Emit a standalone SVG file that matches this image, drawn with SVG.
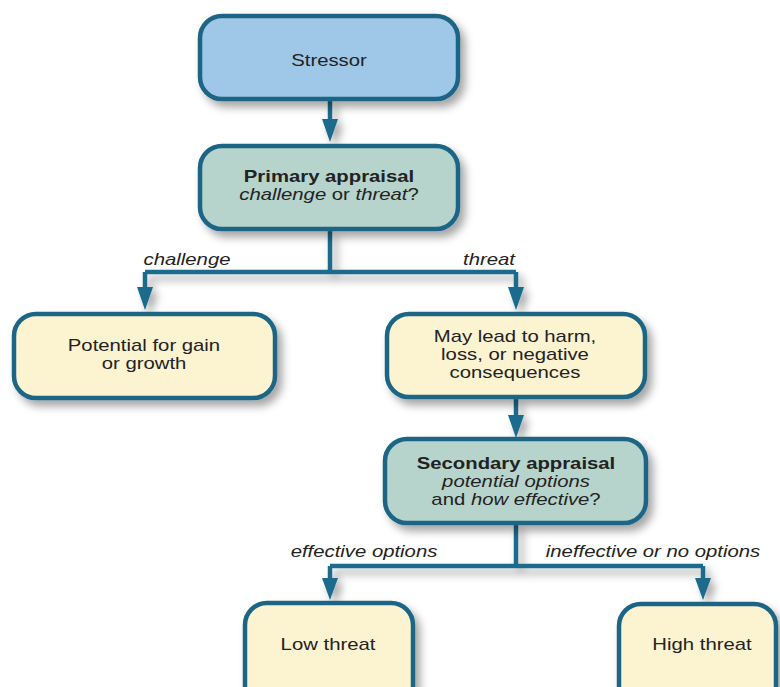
<svg xmlns="http://www.w3.org/2000/svg" width="780" height="687" viewBox="0 0 780 687">
<defs>
<filter id="sh" x="-20%" y="-20%" width="150%" height="160%">
<feDropShadow dx="5" dy="6" stdDeviation="4.5" flood-color="#000" flood-opacity="0.35"/>
</filter>
<style>
.box{stroke:#1d6585;stroke-width:4.5;filter:url(#sh)}
.blue{fill:#9fc7e7}
.green{fill:#b6d4cb}
.yellow{fill:#fcf3d1}
.t{font-family:"Liberation Sans",Arial,sans-serif;font-size:16px;fill:#222;text-anchor:middle}
.b{font-weight:bold}
.i{font-style:italic}
.ln{fill:none;stroke:#1a6a8c;stroke-width:4.5;stroke-linejoin:miter}
.ah{fill:#1a6a8c}
</style>
</defs>
<rect width="780" height="687" fill="#fff"/>
<g id="connectors" filter="url(#sh)">
<path class="ln" d="M330 100V121"/>
<polygon class="ah" points="322,119 338,119 330,142"/>
<path class="ln" d="M330 230V272M145 272H516M145 272V290M516 272V290"/>
<polygon class="ah" points="137,287 153,287 145,310"/>
<polygon class="ah" points="508,287 524,287 516,310"/>
<path class="ln" d="M516 398V418"/>
<polygon class="ah" points="508,415 524,415 516,438"/>
<path class="ln" d="M516 523V566M330 566H703M330 566V581M703 566V581"/>
<polygon class="ah" points="322,578 338,578 330,600"/>
<polygon class="ah" points="695,578 711,578 703,600"/>
</g>
<g id="stressor">
<rect class="box blue" x="200" y="16" width="258" height="83" rx="22"/>
<text class="t" transform="translate(329 66) scale(1.27 1)">Stressor</text>
</g>
<g id="primary">
<rect class="box green" x="200" y="146" width="258" height="83" rx="22"/>
<text class="t b" transform="translate(329 182) scale(1.27 1)">Primary appraisal</text>
<text class="t" transform="translate(329 200) scale(1.27 1)"><tspan class="i">challenge</tspan> or <tspan class="i">threat</tspan>?</text>
</g>
<g id="label-challenge">
<text class="t i" transform="translate(187 265) scale(1.27 1)">challenge</text>
</g>
<g id="label-threat">
<text class="t i" transform="translate(489 265) scale(1.27 1)">threat</text>
</g>
<g id="potential">
<rect class="box yellow" x="14" y="314" width="261" height="84" rx="22"/>
<text class="t" transform="translate(144 351) scale(1.27 1)">Potential for gain</text>
<text class="t" transform="translate(144 369) scale(1.27 1)">or growth</text>
</g>
<g id="harm">
<rect class="box yellow" x="387" y="314" width="258" height="83" rx="22"/>
<text class="t" transform="translate(515 342) scale(1.27 1)">May lead to harm,</text>
<text class="t" transform="translate(515 360) scale(1.27 1)">loss, or negative</text>
<text class="t" transform="translate(515 378) scale(1.27 1)">consequences</text>
</g>
<g id="secondary">
<rect class="box green" x="385" y="439" width="261" height="84" rx="22"/>
<text class="t b" transform="translate(516 469) scale(1.27 1)">Secondary appraisal</text>
<text class="t i" transform="translate(516 487) scale(1.27 1)">potential options</text>
<text class="t" transform="translate(516 505) scale(1.27 1)">and <tspan class="i">how effective</tspan>?</text>
</g>
<g id="label-effective">
<text class="t i" transform="translate(364 557) scale(1.27 1)">effective options</text>
</g>
<g id="label-ineffective">
<text class="t i" transform="translate(653 557) scale(1.27 1)">ineffective or no options</text>
</g>
<g id="low">
<rect class="box yellow" x="245" y="603" width="168" height="110" rx="22"/>
<text class="t" transform="translate(328 650) scale(1.27 1)">Low threat</text>
</g>
<g id="high">
<rect class="box yellow" x="619" y="604" width="157" height="110" rx="22"/>
<text class="t" transform="translate(702 650) scale(1.27 1)">High threat</text>
</g>
</svg>
